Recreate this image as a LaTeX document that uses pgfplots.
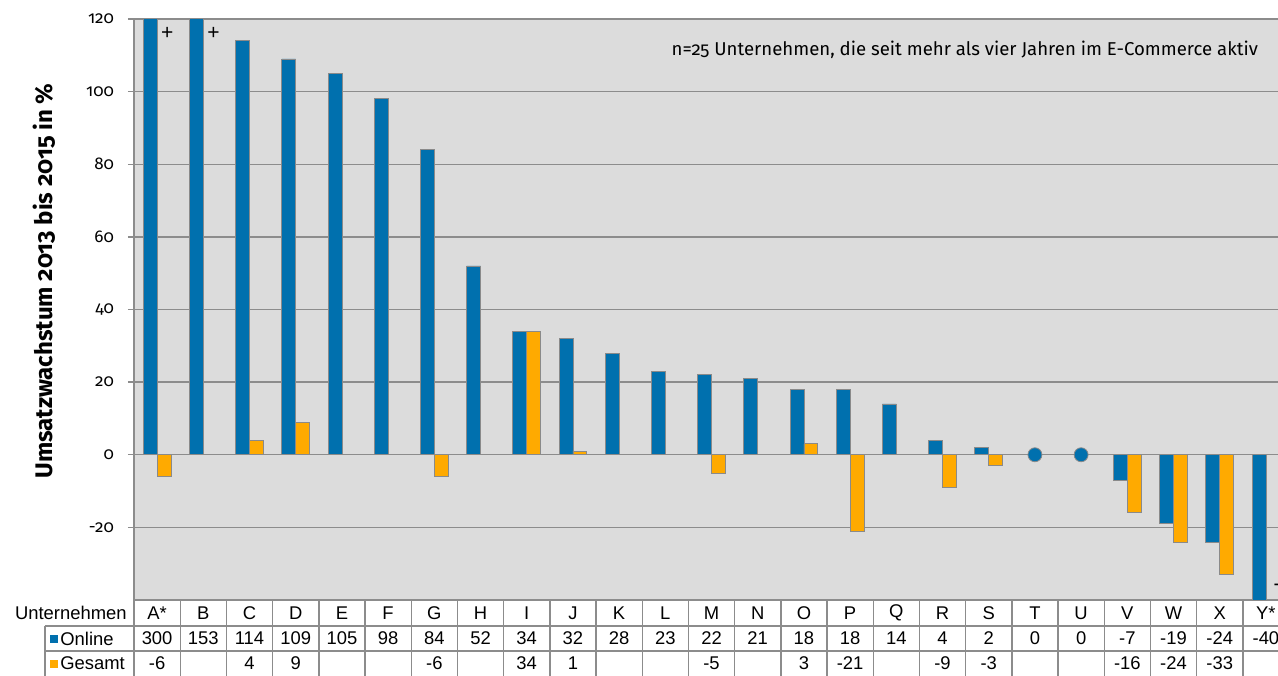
\documentclass[border=0pt]{standalone}
\usepackage{fontspec}
\setmainfont{Liberation Sans}
\newfontfamily\corb[Numbers=OldStyle]{Fira Sans}
\usepackage{pgfplots}
\pgfplotsset{compat=1.18}
\definecolor{onl}{HTML}{0070AE}
\definecolor{ges}{HTML}{FFAA00}
\definecolor{bgc}{HTML}{DCDCDC}
\definecolor{grd}{HTML}{8C8C8C}
\definecolor{edg}{HTML}{8A8A8A}

\begin{document}
\begin{tikzpicture}
\begin{axis}[
  at={(0,0)}, anchor=south west,
  scale only axis, width=577.5pt, height=290.5pt,
  xmin=-0.5, xmax=24.5, ymin=-40, ymax=120,
  xtick=\empty,
  ytick={-20,0,...,120},
  ymajorgrids, grid style={grd, line width=0.7pt},
  axis line style={grd, line width=0.7pt},
  axis background/.style={fill=bgc},
  tick align=outside, major tick length=3pt,
  ytick style={grd, line width=0.7pt},
  yticklabel style={font=\corb\fontsize{8.5}{10}\selectfont, text=black, xshift=-3.5pt},
  /pgf/number format/assume math mode=true,
  ylabel={Umsatzwachstum 2013 bis 2015 in \%},
  ylabel style={font=\corb\bfseries\fontsize{12}{14}\selectfont,
    at={(axis description cs:-0.078,0.549)}, anchor=center},
]
% Online
\addplot[ybar, bar width=0.3, bar shift=-0.15, fill=onl, draw=edg, line width=0.4pt]
  coordinates {(0,300) (1,153) (2,114) (3,109) (4,105) (5,98) (6,84) (7,52)
  (8,34) (9,32) (10,28) (11,23) (12,22) (13,21) (14,18) (15,18) (16,14)
  (17,4) (18,2) (21,-7) (22,-19) (23,-24) (24,-40)};
% Gesamt
\addplot[ybar, bar width=0.3, bar shift=0.15, fill=ges, draw=edg, line width=0.4pt]
  coordinates {(0,-6) (2,4) (3,9) (6,-6) (8,34) (9,1) (12,-5) (14,3) (15,-21)
  (17,-9) (18,-3) (21,-16) (22,-24) (23,-33)};
% Online = 0
\addplot[only marks, mark=*, mark size=3.5pt, mark options={fill=onl, draw=edg, line width=0.4pt}]
  coordinates {(19,0) (20,0)};
\node[font=\fontsize{10.5}{12}\selectfont] at (axis cs:0.22,116) {+};
\node[font=\fontsize{10.5}{12}\selectfont] at (axis cs:1.22,116) {+};
\node[font=\fontsize{10.5}{12}\selectfont] at (axis cs:24.24,-36.6) {-};
\node[anchor=east, font=\corb\fontsize{9.3}{11}\selectfont] at (axis cs:23.98,111.5)
  {n=25 Unternehmen, die seit mehr als vier Jahren im E-Commerce aktiv};
\end{axis}
% data table
\begin{scope}[font=\fontsize{9.2}{11}\selectfont]
  \draw[grd, line width=0.7pt] (-44.5pt,-13pt) -- (577.5pt,-13pt);
  \draw[grd, line width=0.7pt] (-44.5pt,-25.5pt) -- (577.5pt,-25.5pt);
  \draw[grd, line width=0.7pt] (-44.5pt,-13pt) -- (-44.5pt,-40pt);
  \foreach \k in {0,...,25}
    \draw[grd, line width=0.7pt] ({\k*23.1pt},0pt) -- ({\k*23.1pt},-40pt);
  \node[anchor=east, inner sep=0pt] at (-3.5pt,-6.5pt) {Unternehmen};
  \fill[onl] (-42pt,-21.25pt) rectangle (-38pt,-17.25pt);
  \node[anchor=west, inner sep=0pt] at (-37pt,-19.25pt) {Online};
  \fill[ges] (-42pt,-33.75pt) rectangle (-38pt,-29.75pt);
  \node[anchor=west, inner sep=0pt] at (-37pt,-31.75pt) {Gesamt};
  \foreach \n [count=\i from 0] in {A*,B,C,D,E,F,G,H,I,J,K,L,M,N,O,P,Q,R,S,T,U,V,W,X,Y*}
    \node at ({(\i+0.5)*23.1pt},-6.5pt) {\n};
  \foreach \n [count=\i from 0] in {300,153,114,109,105,98,84,52,34,32,28,23,22,21,18,18,14,4,2,0,0,-7,-19,-24,-40}
    \node at ({(\i+0.5)*23.1pt},-19.25pt) {\n};
  \foreach \n [count=\i from 0] in {-6,,4,9,,,-6,,34,1,,,-5,,3,-21,,-9,-3,,,-16,-24,-33,}
    \node at ({(\i+0.5)*23.1pt},-31.75pt) {\n};
\end{scope}
\pgfresetboundingbox
\path[use as bounding box] (-67pt,-37.5pt) rectangle (572pt,300pt);
\end{tikzpicture}
\end{document}
